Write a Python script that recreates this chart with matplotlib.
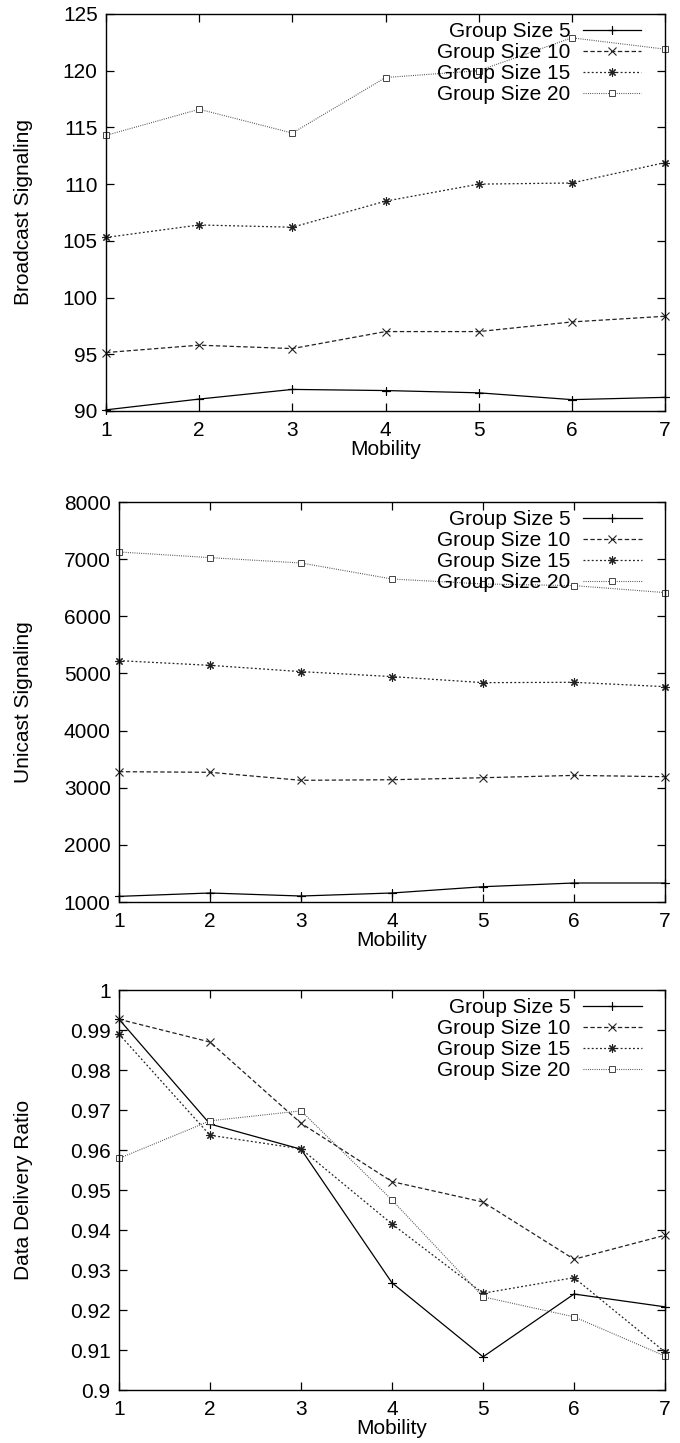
import matplotlib
matplotlib.use("Agg")
import matplotlib.pyplot as plt
import numpy as np
from matplotlib.ticker import FormatStrFormatter

plt.rcParams['font.family'] = ['Liberation Sans', 'DejaVu Sans']

mobility = [1, 2, 3, 4, 5, 6, 7]
labels = ["Group Size 5", "Group Size 10", "Group Size 15", "Group Size 20"]

# broadcast signaling
bcast_gs5 = [90.1, 91.05, 91.9, 91.8, 91.6, 91.0, 91.2]
bcast_gs10 = [95.15, 95.8, 95.5, 97.0, 97.0, 97.85, 98.35]
bcast_gs15 = [105.3, 106.4, 106.2, 108.5, 110.0, 110.1, 111.9]
bcast_gs20 = [114.3, 116.6, 114.5, 119.4, 120.0, 122.9, 121.9]

# unicast signaling
ucast_gs5 = [1099, 1158, 1105, 1158, 1268, 1333, 1333]
ucast_gs10 = [3281, 3270, 3130, 3140, 3175, 3216, 3193]
ucast_gs15 = [5224, 5142, 5032, 4945, 4839, 4845, 4769]
ucast_gs20 = [7126, 7027, 6933, 6653, 6566, 6537, 6415]

# data delivery ratio
ddr_gs5 = [0.9927, 0.9665, 0.9602, 0.9268, 0.9083, 0.9240, 0.9208]
ddr_gs10 = [0.9927, 0.9870, 0.9667, 0.9521, 0.9470, 0.9327, 0.9387]
ddr_gs15 = [0.9890, 0.9637, 0.9603, 0.9415, 0.9242, 0.9281, 0.9095]
ddr_gs20 = [0.9579, 0.9673, 0.9698, 0.9475, 0.9233, 0.9183, 0.9085]

styles = [
    dict(color='black', lw=0.9, ls='-', marker=(4, 2, 0), ms=6, mew=0.8),
    dict(color='#222222', lw=0.9, ls=(0, (3.5, 2)), marker='x', ms=5.5, mew=0.8),
    dict(color='#222222', lw=0.9, ls=(0, (1.5, 1.8)), marker=(8, 2, 0), ms=6, mew=0.8),
    dict(color='#444444', lw=0.8, ls=(0, (0.8, 1.2)), marker='s', ms=5, mew=0.7, mfc='white'),
]

fs = 15

fig = plt.figure(figsize=(6.8, 14.43), dpi=100)
axes = [
    fig.add_axes([0.156, 0.7152, 0.822, 0.2751]),
    fig.add_axes([0.175, 0.3749, 0.803, 0.2772]),
    fig.add_axes([0.175, 0.0367, 0.803, 0.2772]),
]

panels = [
    (axes[0], [bcast_gs5, bcast_gs10, bcast_gs15, bcast_gs20], "Broadcast Signaling", (90, 125), np.arange(90, 126, 5), -0.1306),
    (axes[1], [ucast_gs5, ucast_gs10, ucast_gs15, ucast_gs20], "Unicast Signaling", (1000, 8000), np.arange(1000, 8001, 1000), -0.1575),
    (axes[2], [ddr_gs5, ddr_gs10, ddr_gs15, ddr_gs20], "Data Delivery Ratio", (0.9, 1.0), np.linspace(0.9, 1.0, 11), -0.1575),
]

for ax, series, ylabel, ylim, yticks, ylab_x in panels:
    for vals, lab, st in zip(series, labels, styles):
        ax.plot(mobility, vals, label=lab, clip_on=False, **st)
    ax.set_xlim(1, 7)
    ax.set_ylim(*ylim)
    ax.set_xticks(mobility)
    ax.set_yticks(yticks)
    ax.yaxis.set_major_formatter(FormatStrFormatter('%g'))
    ax.set_xlabel("Mobility", fontsize=fs, labelpad=0)
    ax.set_ylabel(ylabel, fontsize=fs)
    ax.yaxis.set_label_coords(ylab_x, 0.5)
    ax.tick_params(direction='in', length=6, width=0.9, top=True, right=True,
                   labelsize=fs)
    ax.tick_params(axis='x', pad=7)
    ax.tick_params(axis='y', pad=6)
    for sp in ax.spines.values():
        sp.set_linewidth(1.0)
    ax.legend(loc='upper right', bbox_to_anchor=(0.957, 0.98), frameon=False,
              markerfirst=False, fontsize=fs, borderpad=0, borderaxespad=0,
              labelspacing=0.1, handlelength=2.8, handletextpad=0.6)

plt.savefig("out.png", dpi=100)
